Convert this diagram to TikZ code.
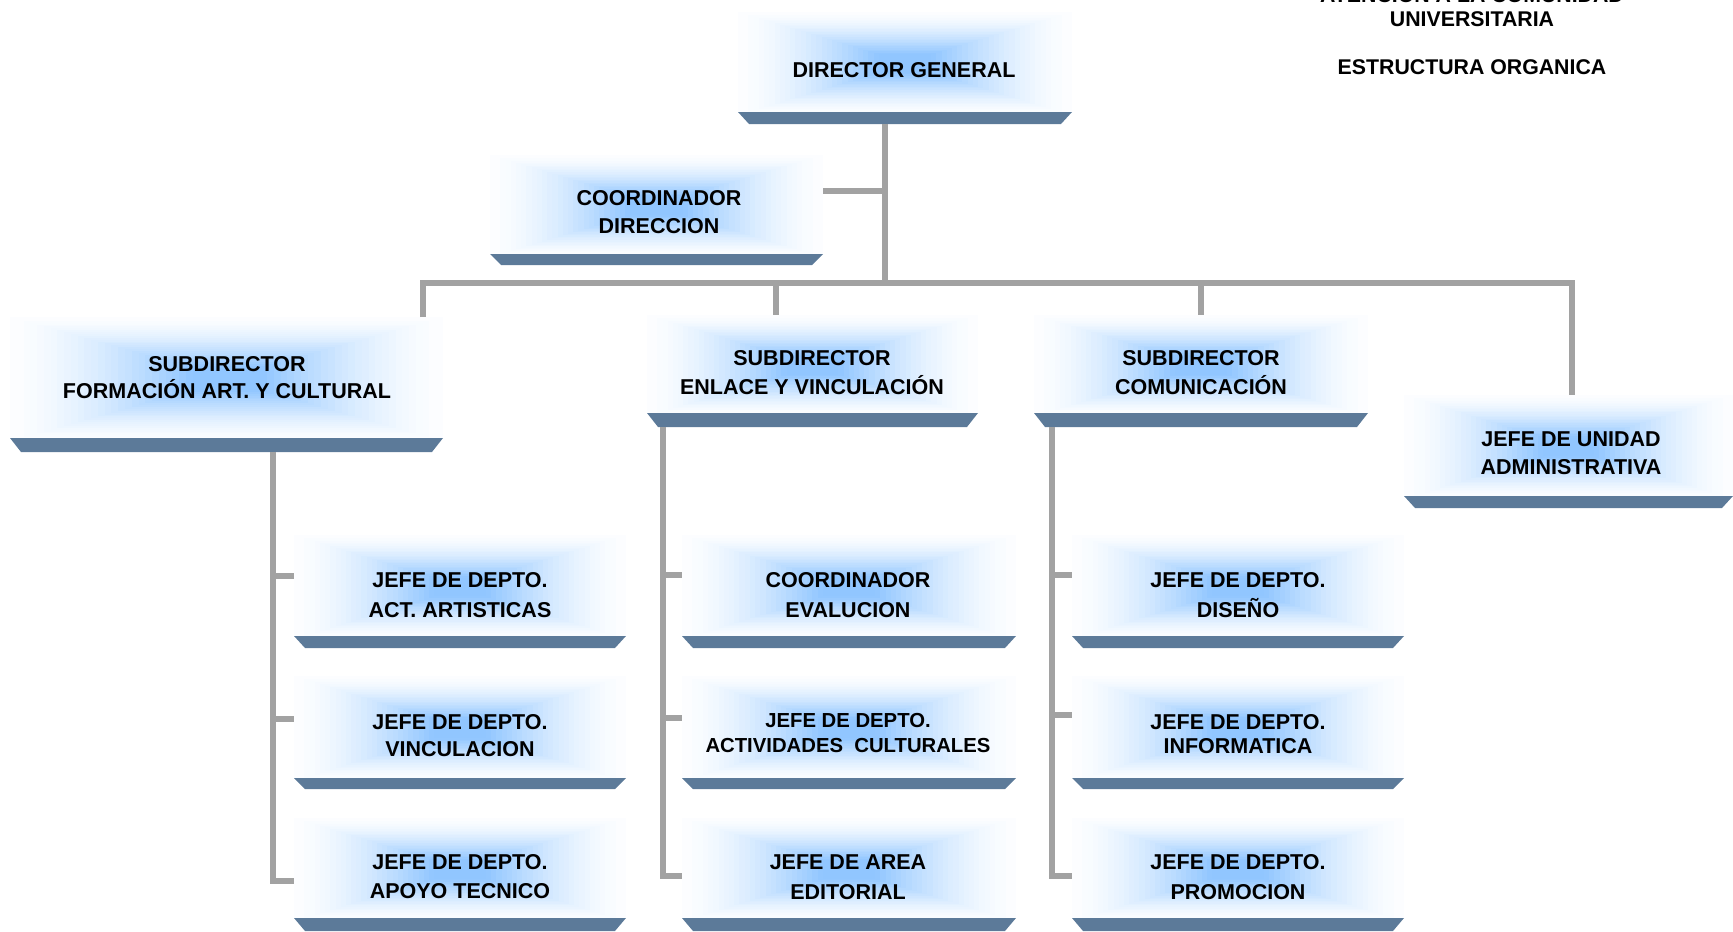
\documentclass[tikz,border=0pt]{standalone}
\usepackage{fontspec}
\setmainfont{Liberation Sans}
\usetikzlibrary{fit}
\definecolor{glowc}{RGB}{145,198,255}
\definecolor{trapc}{RGB}{92,122,153}
\definecolor{connc}{RGB}{162,162,162}
\newcommand\obox[6]{%
  \pgfmathsetmacro\bcx{(#2+#3)/2}%
  \pgfmathsetmacro\bcy{(#4+#5)/2+3}%
  \pgfmathsetmacro\bhw{(#3-#2)/2}%
  \pgfmathsetmacro\bhh{(#5-#4)/2}%
  \foreach \i in {0,...,31}{%
    \pgfmathsetmacro\t{\i/32}%
    \pgfmathtruncatemacro\p{min(100,3+97*(\t/0.82)^1.5)}%
    \fill[glowc!\p!white] ({max(#2,\bcx-(1-\t)*\bhw)},{max(#4,\bcy-(1-\t)*\bhh-3)}) rectangle ({\bcx+(1-\t)*\bhw},{min(#5,\bcy+(1-\t)*\bhh)});
  }
  \fill[trapc] (#2,#5) -- (#3,#5) -- ({#3-11},#6) -- ({#2+11},#6) -- cycle;
  \path (#2,#4) coordinate (#1-nw) (#3,#6) coordinate (#1-se);
  \node[boxnode, fit=(#1-nw)(#1-se)] (#1) {};
}
\begin{document}
\begin{tikzpicture}[x=1pt,y=-1pt,
  boxnode/.style={inner sep=0pt, outer sep=0pt},
  conn/.style={draw=connc, line width=5.5pt, line join=miter},
  lbl/.style={font=\fontsize{21.5}{#1}\selectfont\bfseries, align=center, inner sep=0pt},
  lbl/.default=29,
  ttl/.style={font=\fontsize{21.3}{24}\selectfont\bfseries, align=center, inner sep=0pt}]
\useasboundingbox (0,0) rectangle (1733,932);

% boxes
\obox{dg}{738}{1072}{12}{112}{124}
\obox{co}{490}{823}{155}{254}{265}
\obox{sf}{10}{443}{317}{438}{452}
\obox{se}{647}{978}{315}{413}{427}
\obox{sc}{1034}{1368}{315}{413}{427}
\obox{ju}{1404}{1733}{395}{496}{508}
\obox{a1}{294}{626}{535}{636}{648}
\obox{a2}{294}{626}{676}{778}{789}
\obox{a3}{294}{626}{818}{918}{931}
\obox{b1}{682}{1016}{535}{636}{648}
\obox{b2}{682}{1016}{676}{778}{789}
\obox{b3}{682}{1016}{818}{918}{931}
\obox{c1}{1072}{1404}{535}{636}{648}
\obox{c2}{1072}{1404}{676}{778}{789}
\obox{c3}{1072}{1404}{818}{918}{931}

% junction coordinates
\coordinate (jtop) at (885,283);
\coordinate (jco) at (885,191);
\coordinate (jl) at (423,283);
\coordinate (jr) at (1572,283);
\coordinate (je) at (776,283);
\coordinate (jc) at (1201,283);
\coordinate (xa) at (273,0);
\coordinate (xb) at (663,0);
\coordinate (xc) at (1052,0);

% connectors
\draw[conn] (dg.south -| jtop) -- (jtop);
\draw[conn] (co.east |- jco) -- (jco);
\draw[conn] (sf.north -| jl) -- (jl) -- (jr) -- (ju.north -| jr);
\draw[conn] (je) -- (se.north -| je);
\draw[conn] (jc) -- (sc.north -| jc);

\draw[conn] (sf.south -| xa) -- (xa |- 0,881) -- (a3.west |- 0,881);
\draw[conn] (xa |- 0,576) -- (a1.west |- 0,576);
\draw[conn] (xa |- 0,719) -- (a2.west |- 0,719);

\draw[conn] (se.south -| xb) -- (xb |- 0,876) -- (b3.west |- 0,876);
\draw[conn] (xb |- 0,575) -- (b1.west |- 0,575);
\draw[conn] (xb |- 0,718) -- (b2.west |- 0,718);

\draw[conn] (sc.south -| xc) -- (xc |- 0,876) -- (c3.west |- 0,876);
\draw[conn] (xc |- 0,575) -- (c1.west |- 0,575);
\draw[conn] (xc |- 0,715) -- (c2.west |- 0,715);

% labels
\node[lbl] (tdg) at (904,70) {DIRECTOR GENERAL};
\node[lbl=27.6] (tco) at (659,212) {COORDINADOR\\DIRECCION};
\node[lbl=27.6] (tsf) at (227,377.5) {SUBDIRECTOR\\FORMACIÓN ART. Y CULTURAL};
\node[lbl=28.7] (tse) at (812,372.5) {SUBDIRECTOR\\ENLACE Y VINCULACIÓN};
\node[lbl=28.7] (tsc) at (1201,372.5) {SUBDIRECTOR\\COMUNICACIÓN};
\node[lbl=27.6] (tju) at (1571,453.5) {JEFE DE UNIDAD\\ADMINISTRATIVA};

\node[lbl=29.8] (ta1) at (460,595) {JEFE DE DEPTO.\\ACT. ARTISTICAS};
\node[lbl=27.6] (ta2) at (460,735.5) {JEFE DE DEPTO.\\VINCULACION};
\node[lbl=28.7] (ta3) at (460,876.4) {JEFE DE DEPTO.\\APOYO TECNICO};

\node[lbl=29.8] (tb1) at (848,595) {COORDINADOR\\EVALUCION};
\node[lbl, font=\fontsize{20.3}{25.4}\selectfont\bfseries] (tb2) at (848,733.3) {JEFE DE DEPTO.\\ACTIVIDADES\ \ CULTURALES};
\node[lbl=29.8] (tb3) at (848,877) {JEFE DE AREA\\EDITORIAL};

\node[lbl=29.8] (tc1) at (1238,595) {JEFE DE DEPTO.\\DISEÑO};
\node[lbl=24.3] (tc2) at (1238,733.8) {JEFE DE DEPTO.\\INFORMATICA};
\node[lbl=29.8] (tc3) at (1238,877) {JEFE DE DEPTO.\\PROMOCION};

% title
\node[ttl] (ttl1) at (1472,7) {ATENCION A LA COMUNIDAD\\UNIVERSITARIA};
\node[ttl] (ttl2) at (1472,67) {ESTRUCTURA ORGANICA};
\end{tikzpicture}
\end{document}
